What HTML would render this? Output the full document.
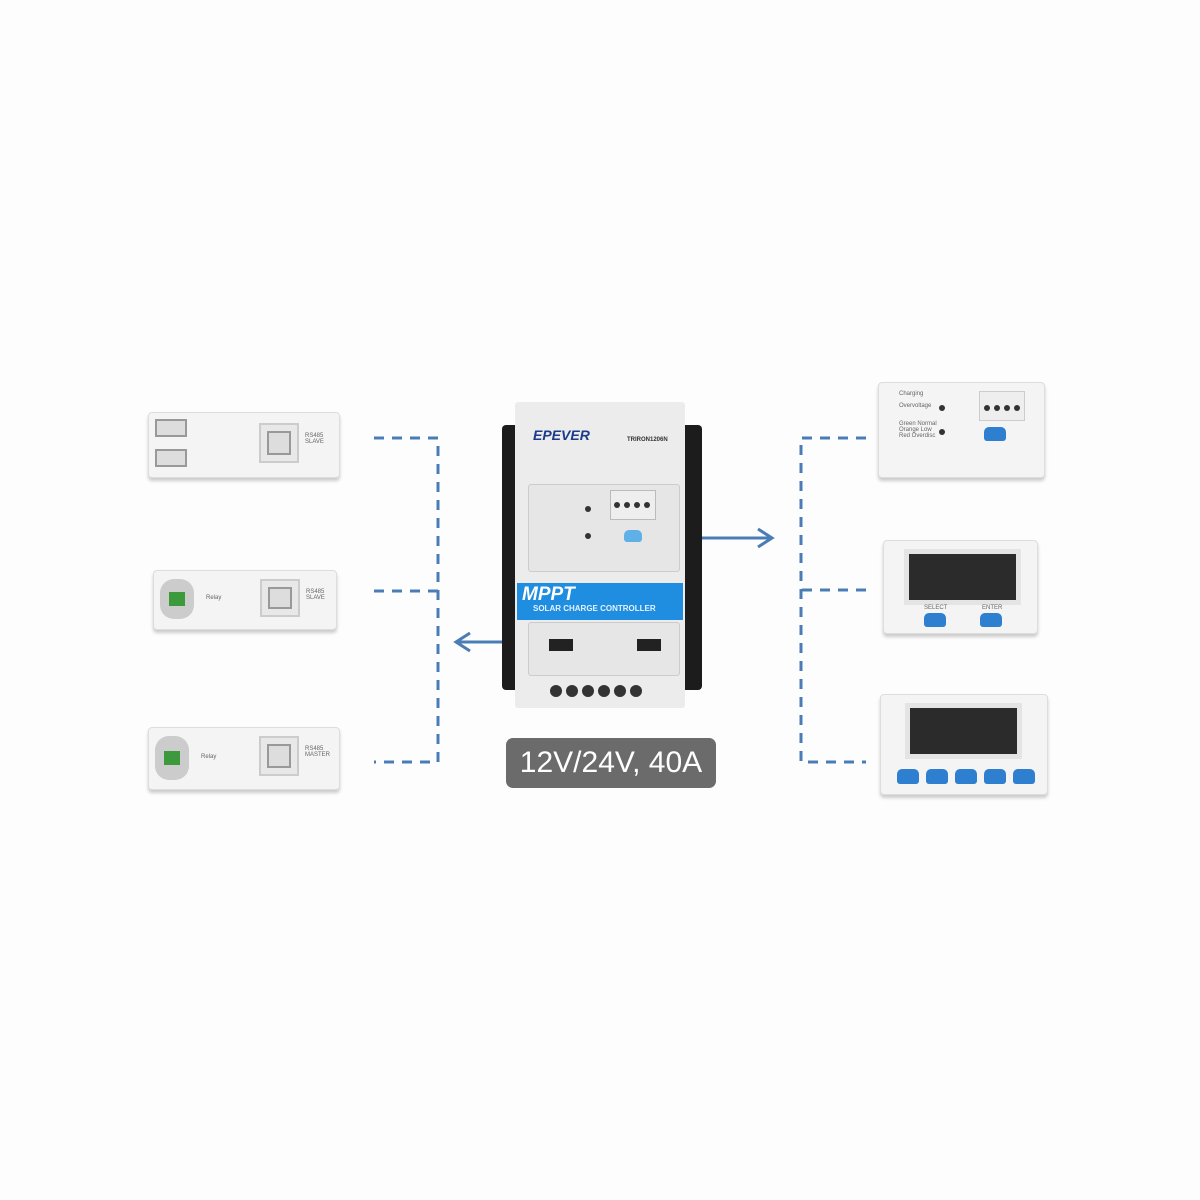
<!DOCTYPE html>
<html><head><meta charset="utf-8"><style>
body{margin:0;width:1200px;height:1200px;background:#fdfdfd;position:relative;overflow:hidden;font-family:"Liberation Sans",sans-serif}
div{position:absolute;box-sizing:border-box}
.mod{background:#f4f4f4;border:1px solid #ddd;border-radius:4px;box-shadow:0 3px 3px #ccc}
.btn{background:#2f7fd0;border-radius:5px 5px 3px 3px}
.scr{background:#2b2b2b;border:5px solid #e4e4e4}
.rj{background:#e8e8e8;border:2px solid #ccc}
.rj::after{content:"";position:absolute;left:6px;top:6px;right:6px;bottom:6px;border:2px solid #999;background:#ddd}
.t{font-size:6px;color:#666;position:absolute}
.dot{width:9px;height:9px;border-radius:50%;background:#333}
</style></head><body>
<svg width="1200" height="1200" style="position:absolute;left:0;top:0">
<g stroke="#4a7db5" stroke-width="3" fill="none" stroke-dasharray="10,8">
<path d="M374 438H438V762H374M374 591H438"/>
<path d="M866 438H801V762H866M866 590H801"/>
</g>
<g stroke="#4a7db5" stroke-width="3" fill="none">
<path d="M518 642H457M470 633L456 642L470 651"/>
<path d="M686 538H771M758 529L772 538L758 547"/>
</g>
</svg>
<!-- left modules -->
<div class="mod" style="left:148px;top:412px;width:192px;height:66px">
<div style="left:6px;top:6px;width:32px;height:18px;background:#ddd;border:2px solid #999"></div>
<div style="left:6px;top:36px;width:32px;height:18px;background:#ddd;border:2px solid #999"></div>
<div class="rj" style="left:110px;top:10px;width:40px;height:40px"></div>
<div class="t" style="left:156px;top:20px">RS485<br>SLAVE</div></div>
<div class="mod" style="left:153px;top:570px;width:184px;height:60px">
<div style="left:6px;top:8px;width:34px;height:40px;border-radius:14px;background:#ccc"><div style="left:9px;top:13px;width:16px;height:14px;background:#3c9a3c"></div></div>
<div class="t" style="left:52px;top:24px">Relay</div>
<div class="rj" style="left:106px;top:8px;width:40px;height:38px"></div>
<div class="t" style="left:152px;top:18px">RS485<br>SLAVE</div></div>
<div class="mod" style="left:148px;top:727px;width:192px;height:63px">
<div style="left:6px;top:8px;width:34px;height:44px;border-radius:14px;background:#ccc"><div style="left:9px;top:15px;width:16px;height:14px;background:#3c9a3c"></div></div>
<div class="t" style="left:52px;top:26px">Relay</div>
<div class="rj" style="left:110px;top:8px;width:40px;height:40px"></div>
<div class="t" style="left:156px;top:18px">RS485<br>MASTER</div></div>
<!-- device -->
<div style="left:502px;top:425px;width:200px;height:265px;background:#1c1c1c;border-radius:4px"></div>
<div style="left:515px;top:402px;width:170px;height:306px;background:#ececec;border-radius:3px"></div>
<div style="left:533px;top:427px;font:italic bold 14px 'Liberation Sans';color:#1a3c8a">EPEVER</div>
<div style="left:627px;top:437px;font:bold 6px 'Liberation Sans';color:#333">TRIRON1206N</div>
<div style="left:528px;top:484px;width:152px;height:88px;border:1px solid #ccc;border-radius:3px;background:#e6e6e6"></div>
<div style="left:610px;top:490px;width:46px;height:30px;border:1px solid #bbb;background:#eee"></div>
<div class="dot" style="left:614px;top:502px;width:6px;height:6px"></div><div class="dot" style="left:624px;top:502px;width:6px;height:6px"></div><div class="dot" style="left:634px;top:502px;width:6px;height:6px"></div><div class="dot" style="left:644px;top:502px;width:6px;height:6px"></div>
<div class="btn" style="left:624px;top:530px;width:18px;height:12px;background:#5fb0e6"></div>
<div class="dot" style="left:585px;top:506px;width:6px;height:6px"></div><div class="dot" style="left:585px;top:533px;width:6px;height:6px"></div>
<div style="left:517px;top:583px;width:166px;height:37px;background:#1f8de0"></div>
<div style="left:522px;top:584px;font:italic bold 19px 'Liberation Sans';color:#fff">MPPT</div>
<div style="left:533px;top:604px;font:bold 8px 'Liberation Sans';color:#e6f2ff">SOLAR CHARGE CONTROLLER</div>
<div style="left:528px;top:622px;width:152px;height:54px;border:1px solid #ccc;border-radius:3px;background:#e6e6e6"></div>
<div style="left:549px;top:639px;width:24px;height:12px;background:#222"></div>
<div style="left:637px;top:639px;width:24px;height:12px;background:#222"></div>
<div class="dot" style="left:550px;top:685px;width:12px;height:12px"></div><div class="dot" style="left:566px;top:685px;width:12px;height:12px"></div><div class="dot" style="left:582px;top:685px;width:12px;height:12px"></div><div class="dot" style="left:598px;top:685px;width:12px;height:12px"></div><div class="dot" style="left:614px;top:685px;width:12px;height:12px"></div><div class="dot" style="left:630px;top:685px;width:12px;height:12px"></div>
<div style="left:506px;top:738px;width:210px;height:50px;background:#6b6b6b;border-radius:7px;color:#fff;font-size:30px;text-align:center;line-height:50px">12V/24V, 40A</div>
<!-- right modules -->
<div class="mod" style="left:878px;top:382px;width:167px;height:96px">
<div style="left:100px;top:8px;width:46px;height:30px;border:1px solid #ccc;background:#eee"></div>
<div class="dot" style="left:105px;top:22px;width:6px;height:6px"></div><div class="dot" style="left:115px;top:22px;width:6px;height:6px"></div><div class="dot" style="left:125px;top:22px;width:6px;height:6px"></div><div class="dot" style="left:135px;top:22px;width:6px;height:6px"></div>
<div class="dot" style="left:60px;top:22px;width:6px;height:6px"></div><div class="dot" style="left:60px;top:46px;width:6px;height:6px"></div>
<div class="btn" style="left:105px;top:44px;width:22px;height:14px"></div>
<div class="t" style="left:20px;top:8px">Charging<br><br>Overvoltage<br><br><br>Green Normal<br>Orange Low<br>Red Overdisc</div></div>
<div class="mod" style="left:883px;top:540px;width:155px;height:94px">
<div class="scr" style="left:20px;top:8px;width:117px;height:56px"></div>
<div class="btn" style="left:40px;top:72px;width:22px;height:14px"></div>
<div class="btn" style="left:96px;top:72px;width:22px;height:14px"></div>
<div class="t" style="left:40px;top:64px">SELECT</div><div class="t" style="left:98px;top:64px">ENTER</div></div>
<div class="mod" style="left:880px;top:694px;width:168px;height:101px">
<div class="scr" style="left:24px;top:8px;width:117px;height:56px"></div>
<div class="btn" style="left:16px;top:74px;width:22px;height:15px"></div>
<div class="btn" style="left:45px;top:74px;width:22px;height:15px"></div>
<div class="btn" style="left:74px;top:74px;width:22px;height:15px"></div>
<div class="btn" style="left:103px;top:74px;width:22px;height:15px"></div>
<div class="btn" style="left:132px;top:74px;width:22px;height:15px"></div></div>
</body></html>
